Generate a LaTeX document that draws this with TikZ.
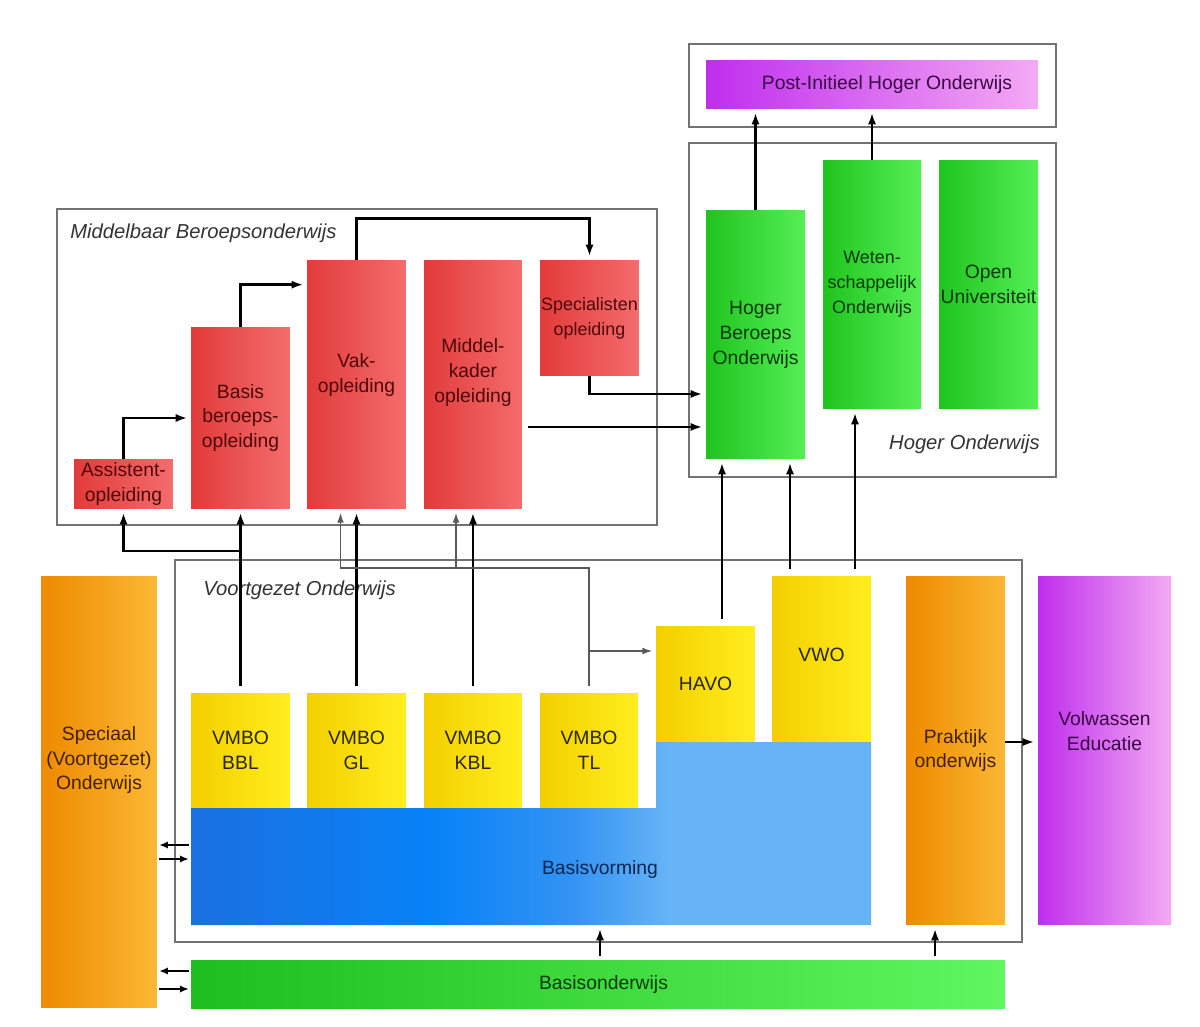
\documentclass[tikz,border=0pt]{standalone}
\usepackage{fontspec}
\setmainfont{Liberation Sans}
\usetikzlibrary{arrows.meta}

\definecolor{mboL}{HTML}{E23B3B}
\definecolor{mboR}{HTML}{F46C6C}
\definecolor{mboT}{HTML}{4E0808}
\definecolor{hoL}{HTML}{1FC41F}
\definecolor{hoR}{HTML}{55EF55}
\definecolor{hoT}{HTML}{093809}
\definecolor{vmboL}{HTML}{F3CF00}
\definecolor{vmboR}{HTML}{FFEE1E}
\definecolor{vmboT}{HTML}{2B2500}
\definecolor{orL}{HTML}{EE8A00}
\definecolor{orR}{HTML}{FBB834}
\definecolor{orT}{HTML}{432000}
\definecolor{purL}{HTML}{BF2EEE}
\definecolor{purR}{HTML}{F4AAF4}
\definecolor{purT}{HTML}{3A0744}
\definecolor{boL}{HTML}{1DBE1D}
\definecolor{boR}{HTML}{5FF65F}
\definecolor{bvA}{HTML}{1A70E0}
\definecolor{bvB}{HTML}{0882F7}
\definecolor{bvC}{HTML}{3393F3}
\definecolor{bvD}{HTML}{66B3F6}
\definecolor{bvT}{HTML}{092552}

\pgfdeclarehorizontalshading{bvshade}{100bp}{color(0bp)=(bvA); color(25bp)=(bvA); color(43bp)=(bvB); color(53bp)=(bvC); color(60bp)=(bvD); color(75bp)=(bvD); color(100bp)=(bvD)}

\begin{document}
\begin{tikzpicture}[
    x=0.02cm, y=-0.02cm,
    box/.style={rectangle, inner sep=0pt, align=center, font=\fontsize{11}{14.2}\selectfont},
    mbo/.style={box, left color=mboL, right color=mboR, text=mboT},
    ho/.style={box, left color=hoL, right color=hoR, text=hoT},
    vmbo/.style={box, left color=vmboL, right color=vmboR, text=vmboT},
    orange box/.style={box, left color=orL, right color=orR, text=orT},
    purple box/.style={box, left color=purL, right color=purR, text=purT},
    col/.style={minimum width=1.98cm},
    frame/.style={draw=black!55, line width=1.1pt},
    grp/.style={inner sep=0pt, font=\fontsize{11.5}{14}\selectfont\itshape, text=black!80},
    arr/.style={-{Latex[length=6.5pt,width=4.6pt]}, line width=1.5pt, shorten >=2pt},
    thinarr/.style={-{Latex[length=5.5pt,width=3.8pt]}, line width=0.7pt, draw=black!65, shorten >=2pt},
    small arr/.style={-{Latex[length=5pt,width=4pt]}, line width=1.3pt, shorten >=1pt, shorten <=1pt},
    fromvo/.style={shorten <=4pt}
]
\useasboundingbox (0,0) rectangle (1200,1027);

% Frames
\draw[frame] (689,44) rectangle (1056,127);
\draw[frame] (689,143) rectangle (1056,477);
\draw[frame] (57,209) rectangle (657,525);
\draw[frame] (175,560) rectangle (1022,942);

\node[grp, anchor=west] (mbolbl) at (70,233) {Middelbaar Beroepsonderwijs};
\node[grp, anchor=west] (volbl) at (203,590) {Voortgezet Onderwijs};
\node[grp, anchor=east] (holbl) at (1040,444) {Hoger Onderwijs};

% Post-initieel and Hoger Onderwijs
\node[purple box, minimum width=6.64cm, minimum height=0.98cm] (post) at (872,84.5) {\hspace{0.6cm}Post-Initieel Hoger Onderwijs};
\node[ho, col, minimum height=4.98cm] (hbo) at (755.5,334.5) {Hoger\\Beroeps\\Onderwijs};
\node[ho, minimum width=1.96cm, minimum height=4.98cm, font=\fontsize{10.2}{14.2}\selectfont] (wo) at (872,284.5) {Weten-\\schappelijk\\Onderwijs};
\node[ho, col, minimum height=4.98cm] (ou) at (988.5,284.5) {Open\\Universiteit};

% Middelbaar beroepsonderwijs
\node[mbo, col, minimum height=1.0cm] (assist) at (123.5,484) {Assistent-\\opleiding};
\node[mbo, col, minimum height=3.64cm] (basis) at (240.5,418) {Basis\\beroeps-\\opleiding};
\node[mbo, col, minimum height=4.98cm, label={[box, text=mboT, yshift=0.19cm]center:{Vak-\\opleiding}}] (vak) at (356.5,384.5) {};
\node[mbo, minimum width=1.96cm, minimum height=4.98cm, label={[box, text=mboT, yshift=0.24cm]center:{Middel-\\kader\\opleiding}}] (mkader) at (473,384.5) {};
\node[mbo, col, minimum height=2.32cm, font=\fontsize{10.2}{14.2}\selectfont] (spec) at (589.5,318) {Specialisten\\opleiding};

% Voortgezet onderwijs
\shade[shading=bvshade] (191,808) -- (656,808) -- (656,742) -- (871,742) -- (871,925) -- (191,925) -- cycle;
\node[inner sep=0pt, minimum width=13.6cm, minimum height=2.34cm] (bv) at (531,866.5) {};
\node[box, text=bvT] (bvtext) at (600,869) {Basisvorming};
\node[vmbo, col, minimum height=2.3cm] (bbl) at (240.5,750.5) {VMBO\\BBL};
\node[vmbo, col, minimum height=2.3cm] (gl) at (356.5,750.5) {VMBO\\GL};
\node[vmbo, minimum width=1.96cm, minimum height=2.3cm] (kbl) at (473,750.5) {VMBO\\KBL};
\node[vmbo, minimum width=1.96cm, minimum height=2.3cm] (tl) at (589,750.5) {VMBO\\TL};
\node[vmbo, col, minimum height=2.32cm] (havo) at (705.5,684) {HAVO};
\node[vmbo, col, minimum height=3.32cm, label={[box, text=vmboT, yshift=0.08cm]center:VWO}] (vwo) at (821.5,659) {};

% Zijkanten en basis
\node[orange box, col, minimum height=6.98cm] (prak) at (955.5,750.5) {Praktijk\\onderwijs};
\node[purple box, minimum width=2.66cm, minimum height=6.98cm, label={[box, text=purT, yshift=0.39cm]center:{Volwassen\\Educatie}}] (volw) at (1104.5,750.5) {};
\node[orange box, minimum width=2.32cm, minimum height=8.64cm, label={[box, text=orT, yshift=0.64cm]center:{Speciaal\\(Voortgezet)\\Onderwijs}}] (speco) at (99,792) {};
\node[box, left color=boL, right color=boR, text=hoT, minimum width=16.28cm, minimum height=0.96cm] (basisond) at (598,984) {\hspace{0.22cm}Basisonderwijs};

% Arrows MBO
\draw[arr] (assist.north) |- (basis.west);
\draw[arr] (basis.north) |- ([yshift=-0.5cm]vak.north west);
\draw[arr] (vak.north) -- ++(0,-41) -| (spec.north);
\draw[arr] (spec.south) |- ([yshift=-1.19cm]hbo.west);
\coordinate (mkout) at ([yshift=-0.85cm]mkader.east);
\draw[arr, shorten <=3pt] (mkout) -- (mkout -| hbo.west);

% Arrows HO
\draw[arr] (hbo.north) -- (hbo.north |- post.south);
\draw[arr] (wo.north) -- (wo.north |- post.south);

% Arrows VO to MBO
\draw[arr, fromvo] (bbl.north) -- (basis.south);
\coordinate (bblsplit) at (240.5,551);
\draw[arr] (bblsplit) -| (assist.south);
\draw[arr, fromvo] (gl.north) -- (vak.south);
\draw[arr, fromvo] (kbl.north) -- (mkader.south);
\coordinate (tlknee) at (589,568);
\coordinate (vakin) at ([xshift=-0.32cm]vak.south);
\coordinate (mkin) at ([xshift=-0.34cm]mkader.south);
\coordinate (tlhavo) at (589,651);
\draw[thinarr, fromvo] (tl.north) -- (tlknee) -| (vakin);
\draw[thinarr] (mkin |- tlknee) -- (mkin);
\draw[thinarr] (tlhavo) -- (tlhavo -| havo.west);

% Arrows VO to HO
\coordinate (havoup) at ([xshift=0.33cm]havo.north);
\coordinate (vwoup1) at ([xshift=-0.63cm]vwo.north);
\coordinate (vwoup2) at ([xshift=0.67cm]vwo.north);
\draw[arr, fromvo] (havoup) -- (havoup |- hbo.south);
\draw[arr, fromvo] (vwoup1) -- (vwoup1 |- hbo.south);
\draw[arr, fromvo] (vwoup2) -- (vwoup2 |- wo.south);

% Praktijk, basisonderwijs
\coordinate (prakout) at ([yshift=0.17cm]prak.east);
\draw[arr] (prakout) -- (prakout -| volw.west);
\draw[arr, shorten <=2pt] (basisond.north -| bvtext) -- (bv.south -| bvtext);
\coordinate (prakin) at ([xshift=-0.41cm]prak.south);
\draw[arr, shorten <=2pt] (basisond.north -| prakin) -- (prakin);

% Speciaal onderwijs
\coordinate (bvl1) at ([yshift=0.43cm]bv.west);
\coordinate (bvl2) at ([yshift=0.15cm]bv.west);
\coordinate (bol1) at ([yshift=0.26cm]basisond.west);
\coordinate (bol2) at ([yshift=-0.1cm]basisond.west);
\draw[small arr] (bvl1) -- (bvl1 -| speco.east);
\draw[small arr] (bvl2 -| speco.east) -- (bvl2);
\draw[small arr] (bol1) -- (bol1 -| speco.east);
\draw[small arr] (bol2 -| speco.east) -- (bol2);

\end{tikzpicture}
\end{document}
